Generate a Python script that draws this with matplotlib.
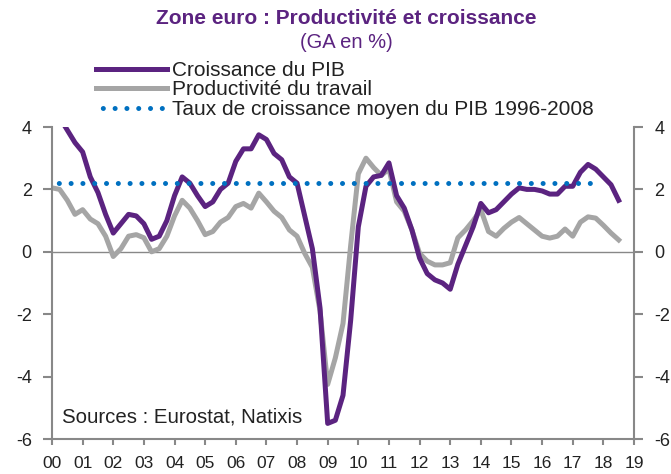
import numpy as np
import matplotlib
matplotlib.use("Agg")
import matplotlib.pyplot as plt

# Quarterly data, 2000Q1 .. 2018Q3 (year-over-year growth, %)
gdp = [4.6, 4.3, 3.9, 3.5,
       3.2, 2.4, 1.9, 1.2,
       0.6, 0.9, 1.2, 1.15,
       0.9, 0.4, 0.5, 1.0,
       1.8, 2.4, 2.2, 1.8,
       1.45, 1.6, 2.0, 2.2,
       2.9, 3.3, 3.3, 3.75,
       3.6, 3.15, 2.95, 2.4,
       2.2, 1.15, 0.1, -1.8,
       -5.5, -5.4, -4.6, -2.2,
       0.8, 2.1, 2.4, 2.45,
       2.85, 1.8, 1.4, 0.7,
       -0.2, -0.7, -0.9, -1.0,
       -1.2, -0.4, 0.2, 0.8,
       1.55, 1.25, 1.35, 1.6,
       1.85, 2.05, 2.0, 2.0,
       1.95, 1.85, 1.85, 2.1,
       2.1, 2.55, 2.8, 2.65,
       2.4, 2.15, 1.65]
productivity = [2.05, 2.0, 1.65, 1.2,
                1.35, 1.05, 0.9, 0.5,
                -0.15, 0.1, 0.5, 0.55,
                0.45, 0.0, 0.1, 0.5,
                1.15, 1.65, 1.4, 1.0,
                0.55, 0.65, 0.95, 1.1,
                1.45, 1.55, 1.4, 1.88,
                1.6, 1.3, 1.1, 0.7,
                0.5, -0.05, -0.5, -1.9,
                -4.25, -3.4, -2.3, 0.2,
                2.5, 3.0, 2.7, 2.45,
                2.65, 1.6, 1.3, 0.7,
                -0.05, -0.3, -0.42, -0.42,
                -0.35, 0.45, 0.7, 1.0,
                1.35, 0.65, 0.5, 0.75,
                0.95, 1.1, 0.9, 0.7,
                0.5, 0.44, 0.5, 0.73,
                0.5, 0.95, 1.12, 1.08,
                0.85, 0.6, 0.38]
avg_growth_value = 2.2
avg_growth_quarters = 72  # 2000Q1 .. 2017Q4
year_labels = ["00", "01", "02", "03", "04", "05", "06", "07", "08", "09",
               "10", "11", "12", "13", "14", "15", "16", "17", "18", "19"]
y_ticks = [-6, -4, -2, 0, 2, 4]

title = "Zone euro : Productivité et croissance"
subtitle = "(GA en %)"
labels = ["Croissance du PIB", "Productivité du travail",
          "Taux de croissance moyen du PIB 1996-2008"]
source = "Sources : Eurostat, Natixis"

PURPLE = "#5B2380"
GRAY = "#A5A5A5"
BLUE = "#0070C0"
AXIS = "#888888"
TXT = "#222222"

plt.rcParams["font.family"] = ["Liberation Sans", "DejaVu Sans"]

fig = plt.figure(figsize=(6.71, 4.74), dpi=100)
ax = fig.add_axes([52 / 671, 1 - 439 / 474, (634 - 52) / 671, (439 - 127) / 474])

x_gdp = np.arange(len(gdp)) / 4.0
x_prod = np.arange(len(productivity)) / 4.0
x_avg = np.arange(avg_growth_quarters) / 4.0

ax.plot(x_avg, [avg_growth_value] * avg_growth_quarters, color=BLUE, lw=3.6,
        linestyle=(1.0, (0.01, 2.35)), dash_capstyle="round", zorder=4,
        label=labels[2])
ax.plot(x_prod, productivity, color=GRAY, lw=3.6, solid_joinstyle="round", zorder=2,
        label=labels[1])
ax.plot(x_gdp, gdp, color=PURPLE, lw=3.6, solid_joinstyle="round", zorder=3,
        label=labels[0])
ax.axhline(0, color=AXIS, lw=1.0, zorder=1)

ax.set_xlim(0, 19)
ax.set_ylim(-6, 4)
ax.set_xticks(range(len(year_labels)))
ax.set_xticklabels(year_labels, fontsize=12.5, color=TXT)
ax.set_yticks(y_ticks)
ax.set_yticklabels([str(v) for v in y_ticks], fontsize=13, color=TXT)
ax.tick_params(axis="y", direction="out", length=6.5, width=1.5, color=AXIS, pad=8,
               left=True, right=True, labelleft=True, labelright=True)
ax.tick_params(axis="x", direction="out", length=4, width=1.5, color=AXIS, pad=8)
for s in ["left", "right", "bottom"]:
    ax.spines[s].set_color(AXIS)
    ax.spines[s].set_linewidth(1.5)
ax.spines["top"].set_visible(False)

ax.text(0.33, -5.3, source, fontsize=14.7, color=TXT, va="center")

fig.text(346 / 671, 1 - 18 / 474, title, ha="center", va="center", fontsize=15,
         fontweight="bold", color=PURPLE)
fig.text(346 / 671, 1 - 43 / 474, subtitle, ha="center", va="center", fontsize=14.5,
         color=PURPLE)

handles, _ = ax.get_legend_handles_labels()
order = [handles[2], handles[1], handles[0]]
leg = fig.legend(order, labels, loc="upper left", bbox_to_anchor=(96 / 671, 1 - 61 / 474),
                 frameon=False, handlelength=3.4, handletextpad=0.25,
                 labelspacing=0.02, borderaxespad=0, borderpad=0,
                 prop={"size": 15})
for t in leg.get_texts():
    t.set_color(TXT)

fig.savefig("out.png", dpi=100)
